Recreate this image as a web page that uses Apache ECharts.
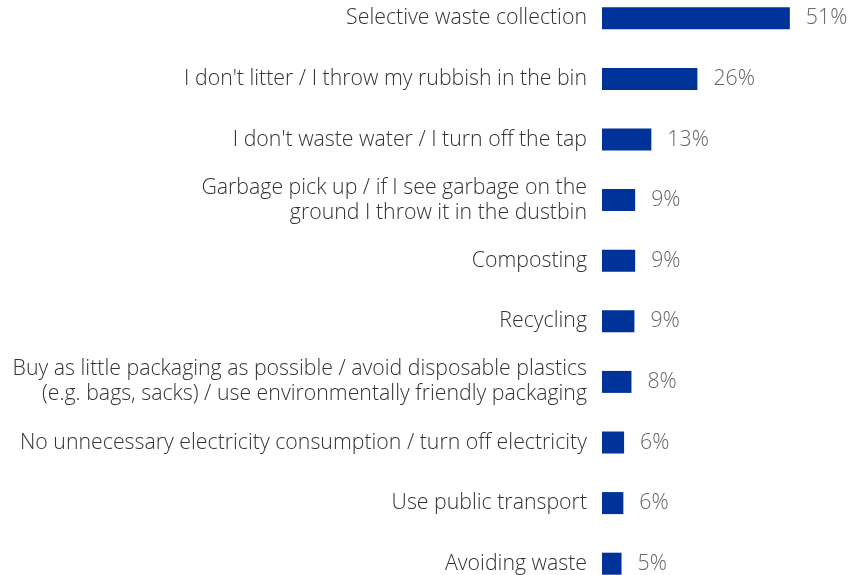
<!DOCTYPE html>
<html>
<head>
<meta charset="utf-8">
<script src="https://cdn.jsdelivr.net/npm/echarts@6/dist/echarts.min.js"></script>
<style>
  html, body { margin: 0; padding: 0; background: #fff; overflow: hidden; }
  /* chart is taller than the window: the last row is cut at the bottom, as in the source */
  #chart { width: 852px; height: 610px; margin-top: -12px; }
</style>
</head>
<body>
<div id="chart"></div>
<script>
const categories = [
  'Selective waste collection',
  "I don't litter / I throw my rubbish in the bin",
  "I don't waste water / I turn off the tap",
  'Garbage pick up / if I see garbage on the\nground I throw it in the dustbin',
  'Composting',
  'Recycling',
  'Buy as little packaging as possible / avoid disposable plastics\n(e.g. bags, sacks) / use environmentally friendly packaging',
  'No unnecessary electricity consumption / turn off electricity',
  'Use public transport',
  'Avoiding waste'
];
const shares = [51, 25.9, 13.4, 9, 9, 8.8, 8, 6, 5.8, 5.3];

const chart = echarts.init(document.getElementById('chart'));

chart.setOption({
  animation: false,
  grid: { left: 602, width: 221, top: 0, height: 606 },
  xAxis: {
    type: 'value',
    min: 0,
    max: 60,
    show: false
  },
  yAxis: {
    type: 'category',
    inverse: true,
    data: categories,
    axisLine: { show: false },
    axisTick: { show: false },
    axisLabel: {
      margin: 15,
      fontFamily: 'Open Sans',
      fontSize: 21.3,
      fontWeight: 300,
      lineHeight: 25,
      padding: [9, 0, 0, 0],
      color: '#333333',
      align: 'right'
    }
  },
  series: [{
    type: 'bar',
    data: shares,
    barWidth: 22,
    itemStyle: { color: '#003399' },
    label: {
      show: true,
      position: 'right',
      distance: 16,
      fontFamily: 'Open Sans',
      fontSize: 21.3,
      fontWeight: 300,
      padding: [9, 0, 0, 0],
      color: '#666666',
      formatter: (p) => Math.round(p.value) + '%'
    }
  }]
});
</script>
</body>
</html>
